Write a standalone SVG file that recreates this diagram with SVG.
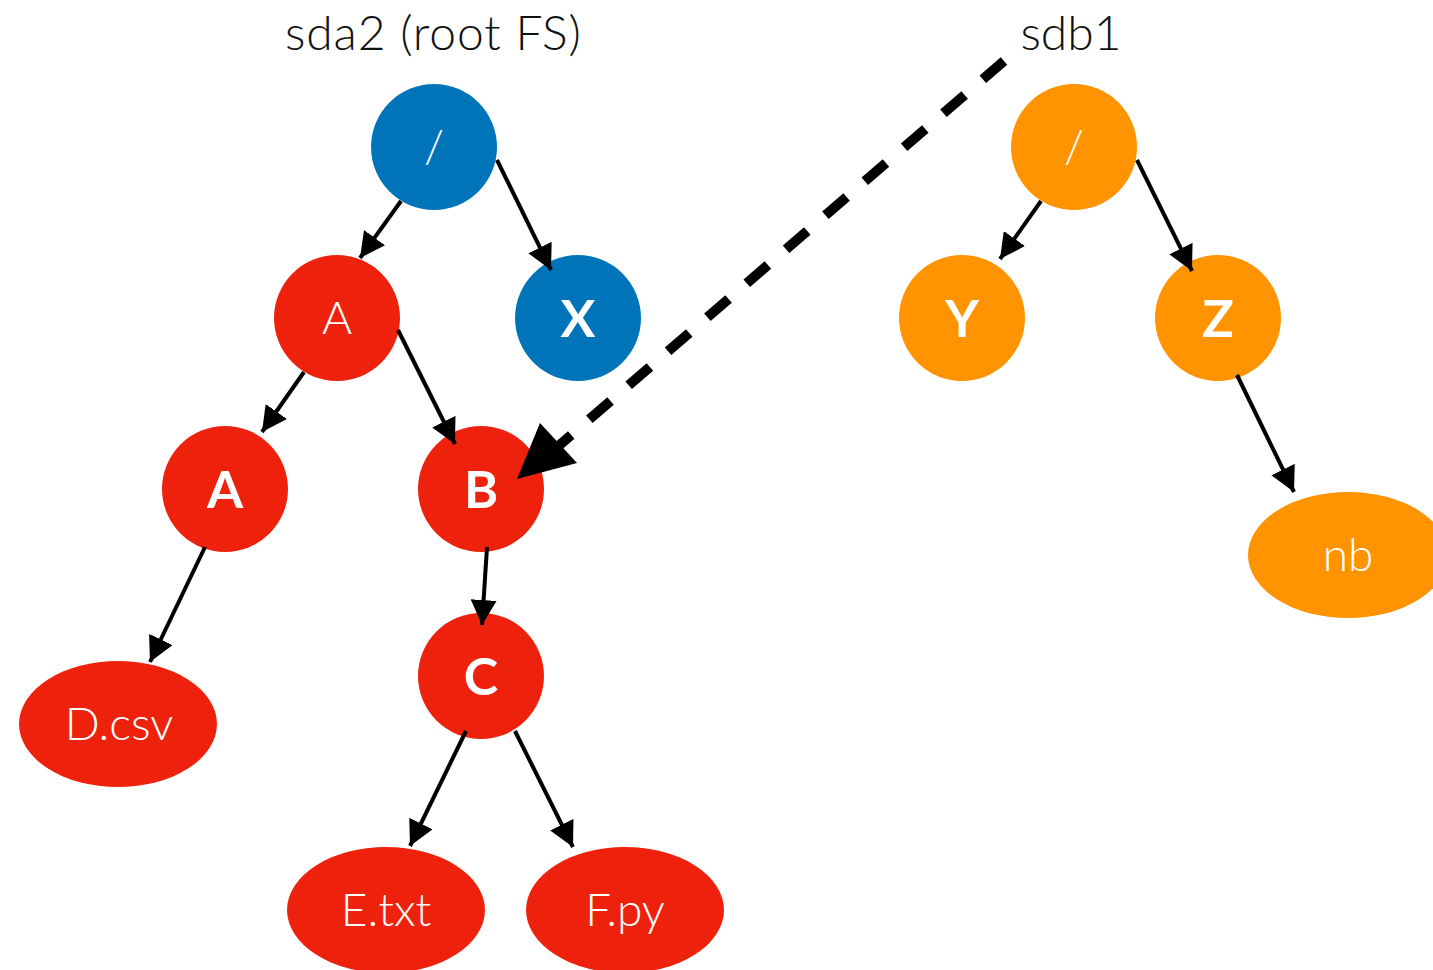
<svg xmlns="http://www.w3.org/2000/svg" width="1433" height="970" viewBox="0 0 1433 970">
<defs>
<marker id="ah" markerUnits="userSpaceOnUse" markerWidth="28" markerHeight="26" refX="25" refY="13" orient="auto">
<path d="M0,0 L25,13 L0,26 Z" fill="#000"/>
</marker>
<style>
.blue{fill:#0074B8}
.red{fill:#EE220C}
.orange{fill:#FF9300}
.lt{font-family:Lato,"Open Sans",sans-serif;font-weight:300;fill:#fff;text-anchor:middle}
.bd{font-family:Lato,"Open Sans",sans-serif;font-weight:700;fill:#fff;text-anchor:middle;font-size:52px}
.ttl{font-family:Lato,"Open Sans",sans-serif;font-weight:300;fill:#111;font-size:48px}
.e{stroke:#000;stroke-width:4;fill:none;marker-end:url(#ah)}
</style>
</defs>
<rect width="1433" height="970" fill="#fff"/>
<text class="ttl" x="433" y="50" text-anchor="middle" textLength="296" lengthAdjust="spacing">sda2 (root FS)</text>
<text class="ttl" x="1071" y="50" text-anchor="middle">sdb1</text>
<g id="n-root1"><circle class="blue" cx="434" cy="147" r="63"/><text class="lt" x="434" y="163" font-size="46">/</text></g>
<g id="n-A1"><circle class="red" cx="337" cy="318" r="63"/><text class="lt" x="337" y="334" font-size="46">A</text></g>
<g id="n-X"><circle class="blue" cx="578" cy="318" r="63"/><text class="bd" x="578" y="337">X</text></g>
<g id="n-A2"><circle class="red" cx="225" cy="489" r="63"/><text class="bd" x="225" y="508">A</text></g>
<g id="n-B"><circle class="red" cx="481" cy="489" r="63"/><text class="bd" x="481" y="508">B</text></g>
<g id="n-C"><circle class="red" cx="481" cy="676" r="63"/><text class="bd" x="481" y="695">C</text></g>
<g id="n-D"><ellipse class="red" cx="118" cy="724" rx="99" ry="63"/><text class="lt" x="119" y="740" font-size="46">D.csv</text></g>
<g id="n-E"><ellipse class="red" cx="386" cy="910" rx="99" ry="63"/><text class="lt" x="386" y="926" font-size="46">E.txt</text></g>
<g id="n-F"><ellipse class="red" cx="625" cy="910" rx="99" ry="63"/><text class="lt" x="625" y="926" font-size="46">F.py</text></g>
<g id="n-root2"><circle class="orange" cx="1074" cy="147" r="63"/><text class="lt" x="1074" y="163" font-size="46">/</text></g>
<g id="n-Y"><circle class="orange" cx="962" cy="318" r="63"/><text class="bd" x="962" y="337">Y</text></g>
<g id="n-Z"><circle class="orange" cx="1218" cy="318" r="63"/><text class="bd" x="1218" y="337">Z</text></g>
<g id="n-nb"><ellipse class="orange" cx="1348" cy="555" rx="100" ry="63"/><text class="lt" x="1348" y="571" font-size="46">nb</text></g>
<g id="connectors">
<line class="e" x1="401" y1="201" x2="360" y2="258"/>
<line class="e" x1="497" y1="160" x2="551" y2="270"/>
<line class="e" x1="304" y1="372" x2="262" y2="432"/>
<line class="e" x1="398" y1="330" x2="455" y2="444"/>
<line class="e" x1="205" y1="547" x2="150" y2="662"/>
<line class="e" x1="487" y1="547" x2="482" y2="625"/>
<line class="e" x1="466" y1="731" x2="410" y2="846"/>
<line class="e" x1="515" y1="731" x2="573" y2="847"/>
<line class="e" x1="1041" y1="201" x2="1000" y2="259"/>
<line class="e" x1="1137" y1="160" x2="1192" y2="271"/>
<line class="e" x1="1237" y1="375" x2="1294" y2="492"/>
<line x1="1004" y1="61" x2="555" y2="449" stroke="#000" stroke-width="10" stroke-dasharray="28 24"/>
<polygon points="517,479 540,423 577,463" fill="#000"/>
</g>
</svg>
